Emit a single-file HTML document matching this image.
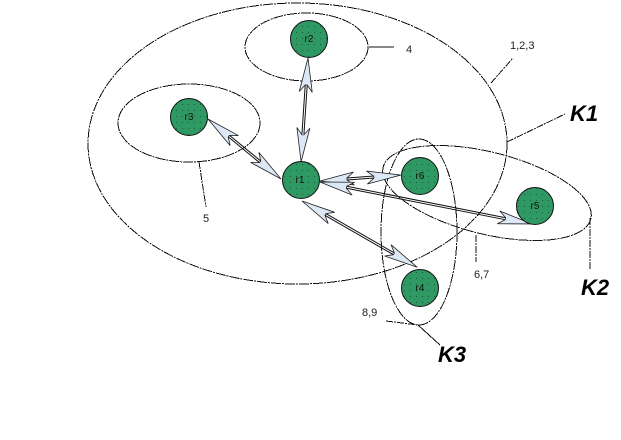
<!DOCTYPE html>
<html>
<head>
<meta charset="utf-8">
<style>
html,body{margin:0;padding:0;background:#fff;width:621px;height:440px;overflow:hidden}
svg{display:block}
text{font-family:"Liberation Sans",sans-serif;fill:#111}
.n{font-size:10px;text-anchor:middle}
.l{font-size:11px;fill:#222}
.k{font-size:22px;font-weight:bold;font-style:italic;fill:#000}
.e{fill:none;stroke:#111;stroke-width:1;stroke-dasharray:10 1 2 1;shape-rendering:crispEdges}
.d{fill:none;stroke:#111;stroke-width:1;stroke-dasharray:7 1 2 1;shape-rendering:crispEdges}
.s{fill:none;stroke:#111;stroke-width:1;shape-rendering:crispEdges}
.a{fill:none;stroke:#111;stroke-width:1}
</style>
</head>
<body>
<svg width="621" height="440" viewBox="0 0 621 440" xmlns="http://www.w3.org/2000/svg">
<defs>
<pattern id="dots" width="6" height="6" patternUnits="userSpaceOnUse">
<rect width="6" height="6" fill="#2f9963"/>
<rect x="2" y="2" width="1" height="1" fill="#1c5c3c"/>
</pattern>
<polygon id="h" points="0,0 34,-6.500 27,-1 27,1 34,6.500" fill="#dde8f6" stroke="#222" stroke-width="0.8" stroke-linejoin="miter"/>
</defs>

<ellipse class="e" cx="297.500" cy="143.500" rx="209.500" ry="140.500"/>
<ellipse class="e" cx="306.500" cy="47" rx="61.500" ry="34"/>
<ellipse class="e" cx="189" cy="123" rx="71" ry="39"/>
<ellipse class="e" cx="487" cy="193" rx="107" ry="41" transform="rotate(14 487 193)"/>
<ellipse class="e" cx="419" cy="232" rx="38" ry="93"/>

<line class="s" x1="369" y1="47" x2="394" y2="47"/>
<line class="d" x1="491" y1="83" x2="513" y2="58"/>
<line class="d" x1="507" y1="142" x2="565" y2="114"/>
<line class="d" x1="199" y1="162" x2="206" y2="207"/>
<line class="d" x1="476" y1="235" x2="476" y2="262"/>
<line class="d" x1="590" y1="218" x2="590" y2="270"/>
<line class="d" x1="386" y1="321" x2="418" y2="325"/>
<line class="s" x1="418" y1="325" x2="440" y2="345"/>

<g transform="translate(208,119) rotate(39.400)">
<line class="a" x1="27" y1="-1" x2="67.500" y2="-1"/><line class="a" x1="27" y1="1" x2="67.500" y2="1"/>
<use href="#h"/><use href="#h" transform="translate(94.500,0) scale(-1,1)"/>
</g>
<g transform="translate(308,58) rotate(93.800)">
<line class="a" x1="27" y1="-1" x2="76" y2="-1"/><line class="a" x1="27" y1="1" x2="76" y2="1"/>
<use href="#h"/><use href="#h" transform="translate(104,0) scale(-1,1)"/>
</g>
<g transform="translate(320,181) rotate(-4.200)">
<line class="a" x1="27" y1="-1" x2="54" y2="-1"/><line class="a" x1="27" y1="1" x2="54" y2="1"/>
<use href="#h"/><use href="#h" transform="translate(81,0) scale(-1,1)"/>
</g>
<g transform="translate(320,182) rotate(11.200)">
<line class="a" x1="27" y1="-1" x2="189" y2="-1"/><line class="a" x1="27" y1="1" x2="189" y2="1"/>
<use href="#h"/><use href="#h" transform="translate(216,0) scale(-1,1)"/>
</g>
<g transform="translate(302,201) rotate(29.900)">
<line class="a" x1="27" y1="-1" x2="106" y2="-1"/><line class="a" x1="27" y1="1" x2="106" y2="1"/>
<use href="#h"/><use href="#h" transform="translate(133,0) scale(-1,1)"/>
</g>

<g fill="url(#dots)" stroke="#111" stroke-width="1">
<circle cx="309" cy="39" r="18.500"/>
<circle cx="189" cy="117" r="18.500"/>
<circle cx="301" cy="180" r="18.500"/>
<circle cx="420" cy="176" r="18.500"/>
<circle cx="535" cy="206" r="18.500"/>
<circle cx="420" cy="288" r="18.500"/>
</g>

<text class="n" x="309" y="42">r2</text>
<text class="n" x="189" y="120">r3</text>
<text class="n" x="300" y="183">r1</text>
<text class="n" x="420" y="179">r6</text>
<text class="n" x="535" y="209">r5</text>
<text class="n" x="420" y="291">r4</text>

<text class="l" x="406" y="53">4</text>
<text class="l" x="510" y="49">1,2,3</text>
<text class="l" x="203" y="222">5</text>
<text class="l" x="474" y="278">6,7</text>
<text class="l" x="362" y="316">8,9</text>

<text class="k" x="570" y="121">K1</text>
<text class="k" x="581" y="295">K2</text>
<text class="k" x="438" y="362">K3</text>
</svg>
</body>
</html>
